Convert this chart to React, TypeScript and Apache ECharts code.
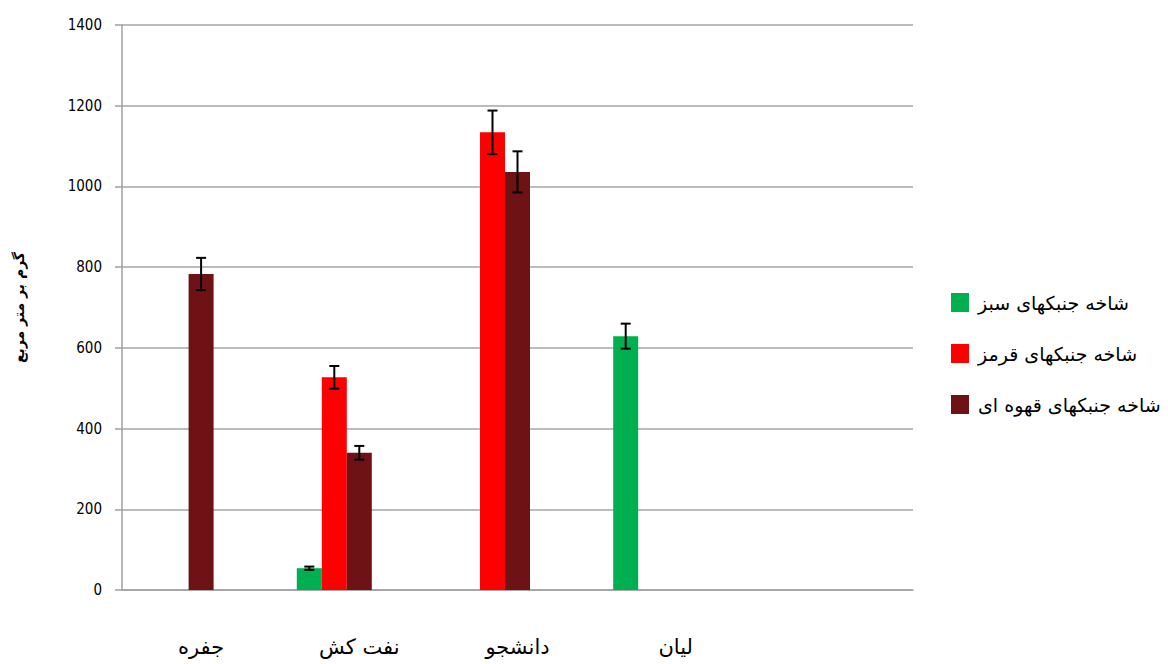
import React, { useEffect, useRef } from "react";
import * as echarts from "echarts";

const categories = ["جفره", "نفت کش", "دانشجو", "لیان", ""];
const seriesNames = ["شاخه جنبکهای سبز", "شاخه جنبکهای قرمز", "شاخه جنبکهای قهوه ای"];
const greenValues = [null, 54, null, 629, null];
const greenErrors = [null, 4, null, 31, null];
const redValues = [null, 527, 1134, null, null];
const redErrors = [null, 28, 54, null, null];
const brownValues = [783, 340, 1036, null, null];
const brownErrors = [40, 17, 51, null, null];
const yTicks = { min: 0, max: 1400, interval: 200 };
const yTitle = "گرم بر متر مربع";

const colors = ["#00b050", "#ff0000", "#6e1216"];
const BAR_W = 25;
const SLOTS = 5;

export default function App() {
  const ref = useRef<HTMLDivElement>(null);
  useEffect(() => {
    if (!ref.current) return;
    const chart = echarts.init(ref.current, undefined, { renderer: "svg" });
    const values = [greenValues, redValues, brownValues];
    const errors = [greenErrors, redErrors, brownErrors];

    const barSeries: any[] = values.map((v, i) => ({
      name: seriesNames[i],
      type: "bar",
      data: v,
      barWidth: BAR_W,
      barGap: "0%",
      barCategoryGap: "21%",
      itemStyle: { color: colors[i] },
    }));
    // two empty slots to reproduce the layout of the original
    for (let k = 0; k < 2; k++) {
      barSeries.push({
        name: "empty" + k,
        type: "bar",
        data: categories.map(() => null),
        barWidth: BAR_W,
        barGap: "0%",
        barCategoryGap: "21%",
      });
    }

    const errData: any[] = [];
    values.forEach((v, s) => {
      v.forEach((val, c) => {
        const e = errors[s][c];
        if (val != null && e != null) errData.push([c, val, e, s]);
      });
    });

    const errSeries = {
      type: "custom",
      name: "err",
      data: errData,
      encode: { x: 0, y: 1 },
      z: 10,
      renderItem: (params: any, api: any) => {
        const c = api.value(0);
        const v = api.value(1);
        const e = api.value(2);
        const s = api.value(3);
        const off = (s - (SLOTS - 1) / 2) * BAR_W;
        const top = api.coord([c, v + e]);
        const bot = api.coord([c, v - e]);
        const x = top[0] + off;
        const cap = 5;
        const st = { stroke: "#000", lineWidth: 2 };
        return {
          type: "group",
          children: [
            { type: "line", shape: { x1: x, y1: top[1], x2: x, y2: bot[1] }, style: st },
            { type: "line", shape: { x1: x - cap, y1: top[1], x2: x + cap, y2: top[1] }, style: st },
            { type: "line", shape: { x1: x - cap, y1: bot[1], x2: x + cap, y2: bot[1] }, style: st },
          ],
        };
      },
    };

    chart.setOption({
      animation: false,
      grid: { left: 122, right: 255, top: 25, bottom: 74 },
      legend: {
        data: seriesNames,
        orient: "vertical",
        left: 946,
        top: 288,
        itemWidth: 18,
        itemHeight: 19,
        itemGap: 32,
        icon: "rect",
        textStyle: { fontFamily: "DejaVu Sans", fontSize: 19, color: "#000", padding: [0, 0, 0, 4] },
      },
      xAxis: {
        type: "category",
        data: categories,
        axisLine: { lineStyle: { color: "#a0a0a0", width: 1.5 } },
        axisTick: { length: 8, lineStyle: { color: "#a0a0a0", width: 1.5 } },
        axisLabel: { fontFamily: "DejaVu Sans", fontSize: 21, color: "#000", margin: 46 },
        splitLine: { show: false },
      },
      yAxis: {
        type: "value",
        min: yTicks.min,
        max: yTicks.max,
        interval: yTicks.interval,
        name: yTitle,
        nameLocation: "middle",
        nameGap: 96,
        nameTextStyle: { fontFamily: "DejaVu Sans", fontSize: 14, fontWeight: "bold", color: "#000" },
        axisLine: { show: true, lineStyle: { color: "#a0a0a0", width: 1.5 } },
        axisTick: { show: true, length: 7, lineStyle: { color: "#a0a0a0", width: 1.5 } },
        axisLabel: {
          fontFamily: "DejaVu Sans Condensed",
          fontSize: 15,
          color: "#000",
          margin: 20,
          formatter: (v: number) => String(v),
        },
        splitLine: { lineStyle: { color: "#a6a6a6", width: 1.5 } },
      },
      series: [...barSeries, errSeries],
    });
    return () => chart.dispose();
  }, []);
  return (
    <div
      ref={ref}
      style={{ position: "fixed", left: 0, top: 0, width: 1168, height: 664, background: "#fff" }}
    />
  );
}
